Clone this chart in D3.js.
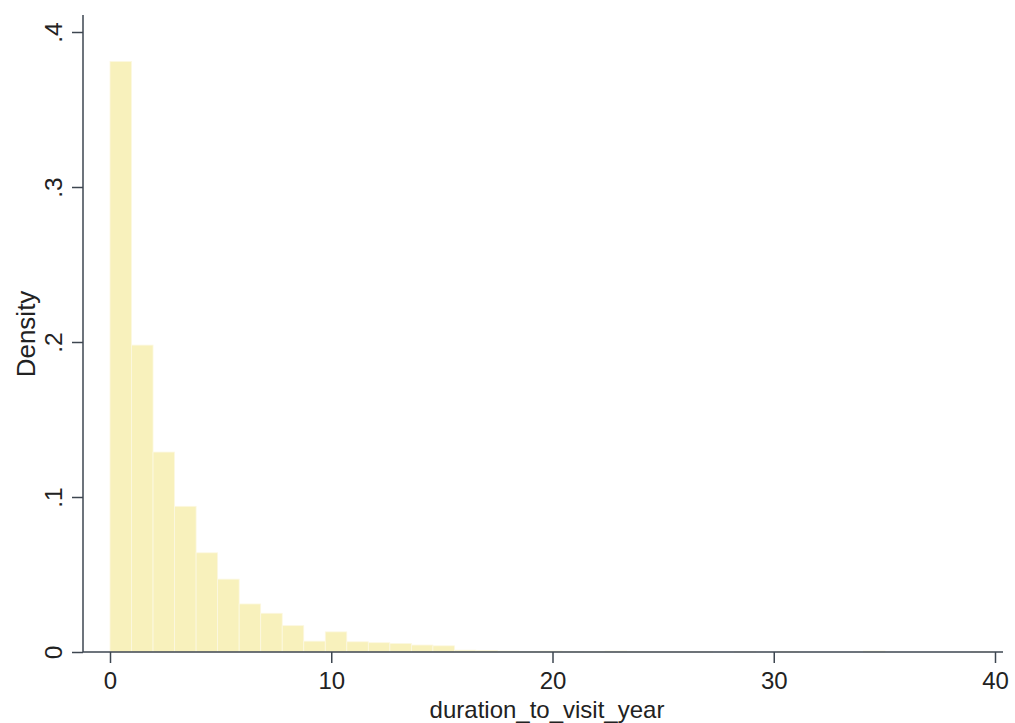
<!DOCTYPE html>
<html>
<head>
<meta charset="utf-8">
<script src="https://cdn.jsdelivr.net/npm/d3@7"></script>
<style>
  html, body { margin: 0; padding: 0; background: #fff; }
  svg { display: block; font-family: "Liberation Sans", Arial, sans-serif; }
</style>
</head>
<body>
<svg id="chart" width="1015" height="723"></svg>
<script>
// ---- data ----
const binWidth = 0.973;
const densities = [0.381, 0.198, 0.129, 0.094, 0.064, 0.047, 0.031, 0.025, 0.017, 0.007,
                   0.013, 0.0066, 0.006, 0.0055, 0.0045, 0.004, 0.0012, 0.0010, 0.0006, 0.0004,
                   0.0006, 0.0003, 0.0002, 0.0006, 0.0002, 0.0001, 0.0001, 0.0001, 0, 0.0001,
                   0, 0.0002, 0, 0, 0, 0.0006, 0, 0, 0, 0, 0.0001];
const xTicks = [0, 10, 20, 30, 40];
const yTicks = [0, 0.1, 0.2, 0.3, 0.4];
const xTitle = "duration_to_visit_year";
const yTitle = "Density";

// ---- layout ----
const svg = d3.select("#chart");
const axisX0 = 83, axisY0 = 652;
const x = d3.scaleLinear().domain([0, 40]).range([110, 995]);
const y = d3.scaleLinear().domain([0, 0.4]).range([652, 32]);
const axisColor = "#3d4650";
const textColor = "#222";

const bins = densities.map((d, i) => ({x0: i * binWidth, x1: (i + 1) * binWidth, d}));

svg.append("g").selectAll("rect").data(bins).join("rect")
  .attr("x", b => x(b.x0))
  .attr("width", b => x(b.x1) - x(b.x0))
  .attr("y", b => y(b.d))
  .attr("height", b => y(0) - y(b.d))
  .attr("fill", "#f8f1bc")
  .attr("stroke", "#fcf8e2")
  .attr("stroke-width", 0.8);

// axis lines
svg.append("line").attr("x1", axisX0).attr("x2", axisX0).attr("y1", 15).attr("y2", axisY0)
  .attr("stroke", axisColor).attr("stroke-width", 1.5);
svg.append("line").attr("x1", axisX0).attr("x2", 1003).attr("y1", axisY0).attr("y2", axisY0)
  .attr("stroke", axisColor).attr("stroke-width", 1.5);

const fmtY = d => d === 0 ? "0" : d3.format(".1f")(d).replace(/^0/, "");

const gx = svg.append("g").attr("transform", `translate(0,${axisY0})`)
  .call(d3.axisBottom(x).tickValues(xTicks).tickSize(11).tickSizeOuter(0).tickFormat(d3.format("d")));
gx.select(".domain").remove();
gx.selectAll(".tick line").attr("stroke", axisColor).attr("stroke-width", 1.5);
gx.selectAll(".tick text").attr("y", 37).attr("dy", 0)
  .attr("font-size", 24).attr("fill", textColor).attr("font-family", "Liberation Sans, Arial, sans-serif");

const gy = svg.append("g").attr("transform", `translate(${axisX0},0)`)
  .call(d3.axisLeft(y).tickValues(yTicks).tickSize(11).tickSizeOuter(0).tickFormat(fmtY));
gy.select(".domain").remove();
gy.selectAll(".tick line").attr("stroke", axisColor).attr("stroke-width", 1.5);
gy.selectAll(".tick text")
  .attr("transform", "rotate(-90)")
  .attr("x", 0).attr("y", -21).attr("dy", 0)
  .attr("text-anchor", "middle")
  .attr("font-size", 24.5).attr("fill", textColor).attr("font-family", "Liberation Sans, Arial, sans-serif");

// titles
svg.append("text").attr("x", 547).attr("y", 717.5).attr("text-anchor", "middle")
  .attr("font-size", 24).attr("fill", textColor).text(xTitle);
svg.append("text").attr("transform", "translate(35,334) rotate(-90)").attr("text-anchor", "middle")
  .attr("font-size", 26).attr("fill", textColor).text(yTitle);
</script>
</body>
</html>
